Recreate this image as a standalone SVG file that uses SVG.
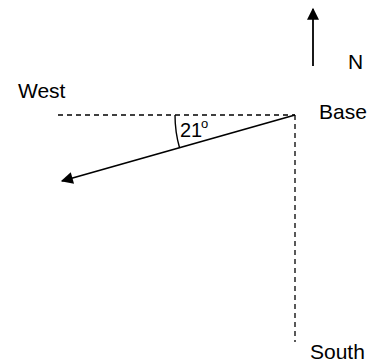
<svg xmlns="http://www.w3.org/2000/svg" width="388" height="364" viewBox="0 0 388 364">
<style>
text{font-family:"Liberation Sans",Arial,sans-serif;font-size:21px;fill:#000}
.dash{stroke:#000;stroke-width:1.3;stroke-dasharray:5,4;fill:none}
.solid{stroke:#000;stroke-width:1.8;fill:none}
</style>
<defs>
<marker id="ah" viewBox="0 0 10 10" refX="9" refY="5" markerWidth="15" markerHeight="12" markerUnits="userSpaceOnUse" orient="auto">
<path d="M0,0 L10,5 L0,10 z" fill="#000"/>
</marker>
</defs>
<g id="connectors">
<line class="dash" x1="58" y1="115" x2="295" y2="115"/>
<line class="dash" x1="295" y1="115" x2="295" y2="342"/>
<line class="solid" x1="295" y1="115" x2="62" y2="181" marker-end="url(#ah)"/>
<line class="solid" x1="313" y1="66" x2="313" y2="9" marker-end="url(#ah)"/>
<path class="solid" d="M175,115 A120,120 0 0 0 179.6,148" style="stroke-width:1.4"/>
</g>
<g id="west"><text x="18" y="98">West</text></g>
<g id="base"><text x="319" y="119">Base</text></g>
<g id="north"><text x="348" y="69">N</text></g>
<g id="south"><text x="310" y="359">South</text></g>
<g id="angle"><text x="180" y="137" style="font-size:20px">21</text><text x="201" y="128" style="font-size:13px">o</text></g>
</svg>
